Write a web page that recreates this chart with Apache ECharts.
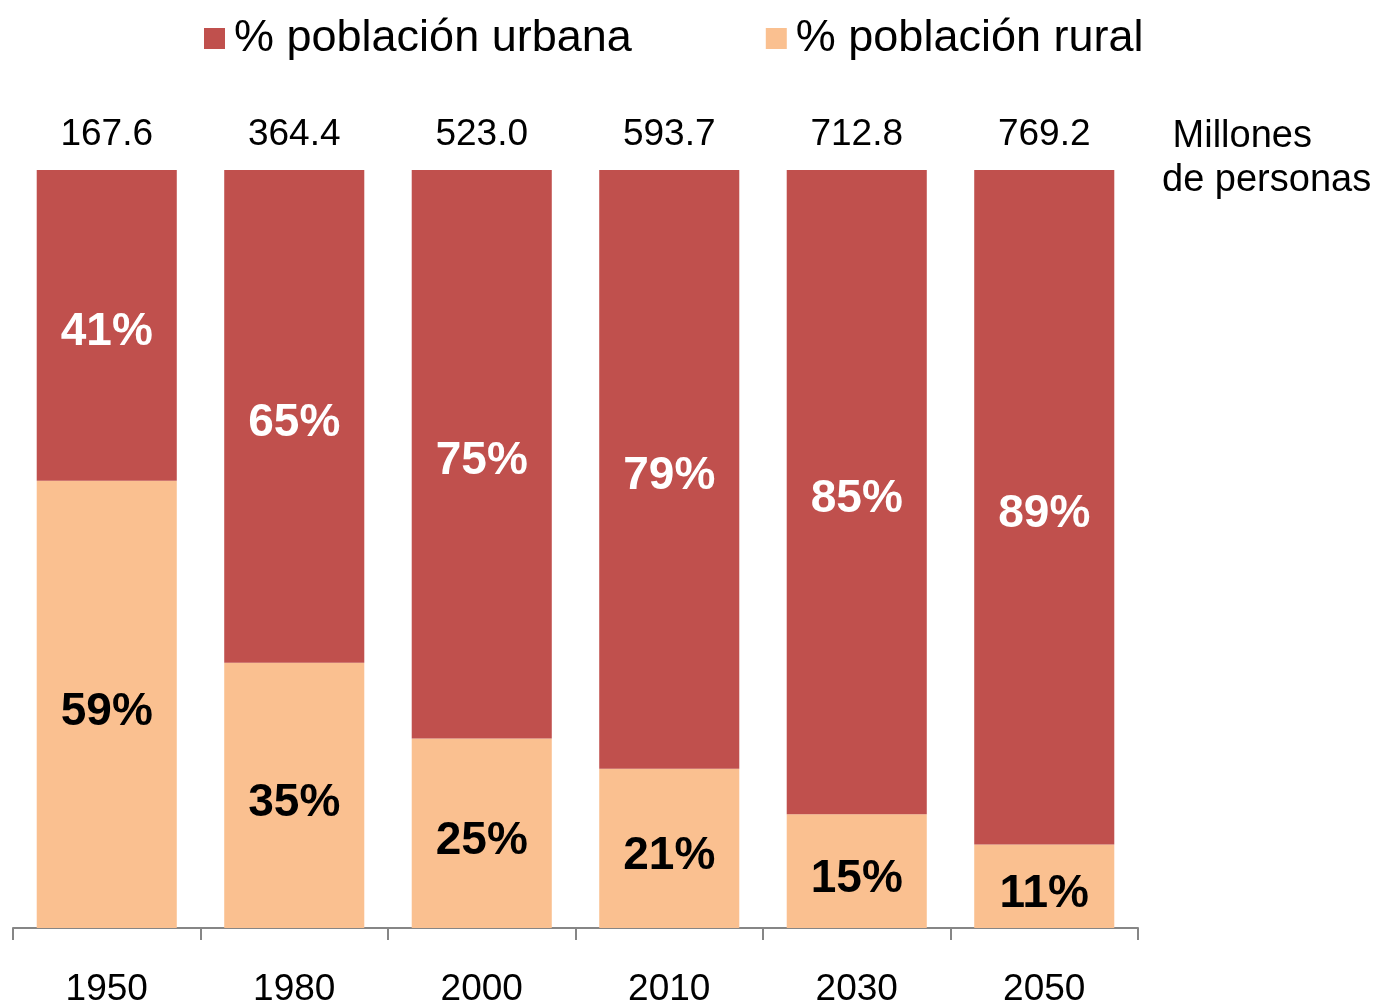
<!DOCTYPE html>
<html>
<head>
    <meta charset="UTF-8">
    <title>Población urbana y rural</title>
    <script src="https://cdn.jsdelivr.net/npm/echarts@6/dist/echarts.min.js"></script>
    <style>
        html, body { margin: 0; padding: 0; background: #fff; }
    </style>
</head>
<body>
    <div id="main" style="width:1375px;height:1004px;"></div>
    <script type="text/javascript">
        // datos
        var years = ['1950', '1980', '2000', '2010', '2030', '2050'];
        var totals = ['167.6', '364.4', '523.0', '593.7', '712.8', '769.2'];
        var urbana = [41, 65, 75, 79, 85, 89];
        var rural = [59, 35, 25, 21, 15, 11];

        var font = '"Liberation Sans", Arial, sans-serif';

        var myChart = echarts.init(document.getElementById('main'));

        myChart.setOption({
            animation: false,
            title: {
                text: ' Millones\nde personas',
                left: 1157,
                top: 110,
                textStyle: {
                    fontFamily: font,
                    fontSize: 38,
                    fontWeight: 'normal',
                    color: '#000',
                    lineHeight: 44
                }
            },
            legend: {
                data: ['% población urbana', '% población rural'],
                left: 199,
                top: 11,
                itemWidth: 21,
                itemHeight: 21,
                itemGap: 134,
                icon: 'rect',
                textStyle: {
                    fontFamily: font,
                    fontSize: 45,
                    color: '#000',
                    padding: [0, 0, 0, 4]
                }
            },
            grid: {
                left: 13,
                right: 237,
                top: 170,
                bottom: 76,
                containLabel: false,
                outerBoundsMode: 'none'
            },
            xAxis: [{
                type: 'category',
                data: years,
                position: 'bottom',
                axisLine: { lineStyle: { color: '#868686', width: 2 } },
                axisTick: { show: true, length: 12, lineStyle: { color: '#868686', width: 2 } },
                axisLabel: {
                    fontFamily: font,
                    fontSize: 37,
                    color: '#000',
                    margin: 43
                }
            }, {
                type: 'category',
                data: totals,
                position: 'top',
                axisLine: { show: false },
                axisTick: { show: false },
                axisLabel: {
                    fontFamily: font,
                    fontSize: 37,
                    color: '#000',
                    margin: 17
                }
            }],
            yAxis: {
                type: 'value',
                min: 0,
                max: 100,
                show: false
            },
            series: [{
                name: '% población rural',
                type: 'bar',
                stack: 'total',
                data: rural,
                barCategoryGap: '25.3%',
                itemStyle: { color: '#FAC090' },
                label: {
                    show: true,
                    position: 'inside',
                    offset: [0, 8],
                    formatter: '{c}%',
                    fontFamily: font,
                    fontSize: 46,
                    fontWeight: 'bold',
                    color: '#000'
                }
            }, {
                name: '% población urbana',
                type: 'bar',
                stack: 'total',
                data: urbana,
                itemStyle: { color: '#C0504D' },
                label: {
                    show: true,
                    position: 'inside',
                    offset: [0, 7],
                    formatter: '{c}%',
                    fontFamily: font,
                    fontSize: 46,
                    fontWeight: 'bold',
                    color: '#fff'
                }
            }]
        });
    </script>
</body>
</html>
